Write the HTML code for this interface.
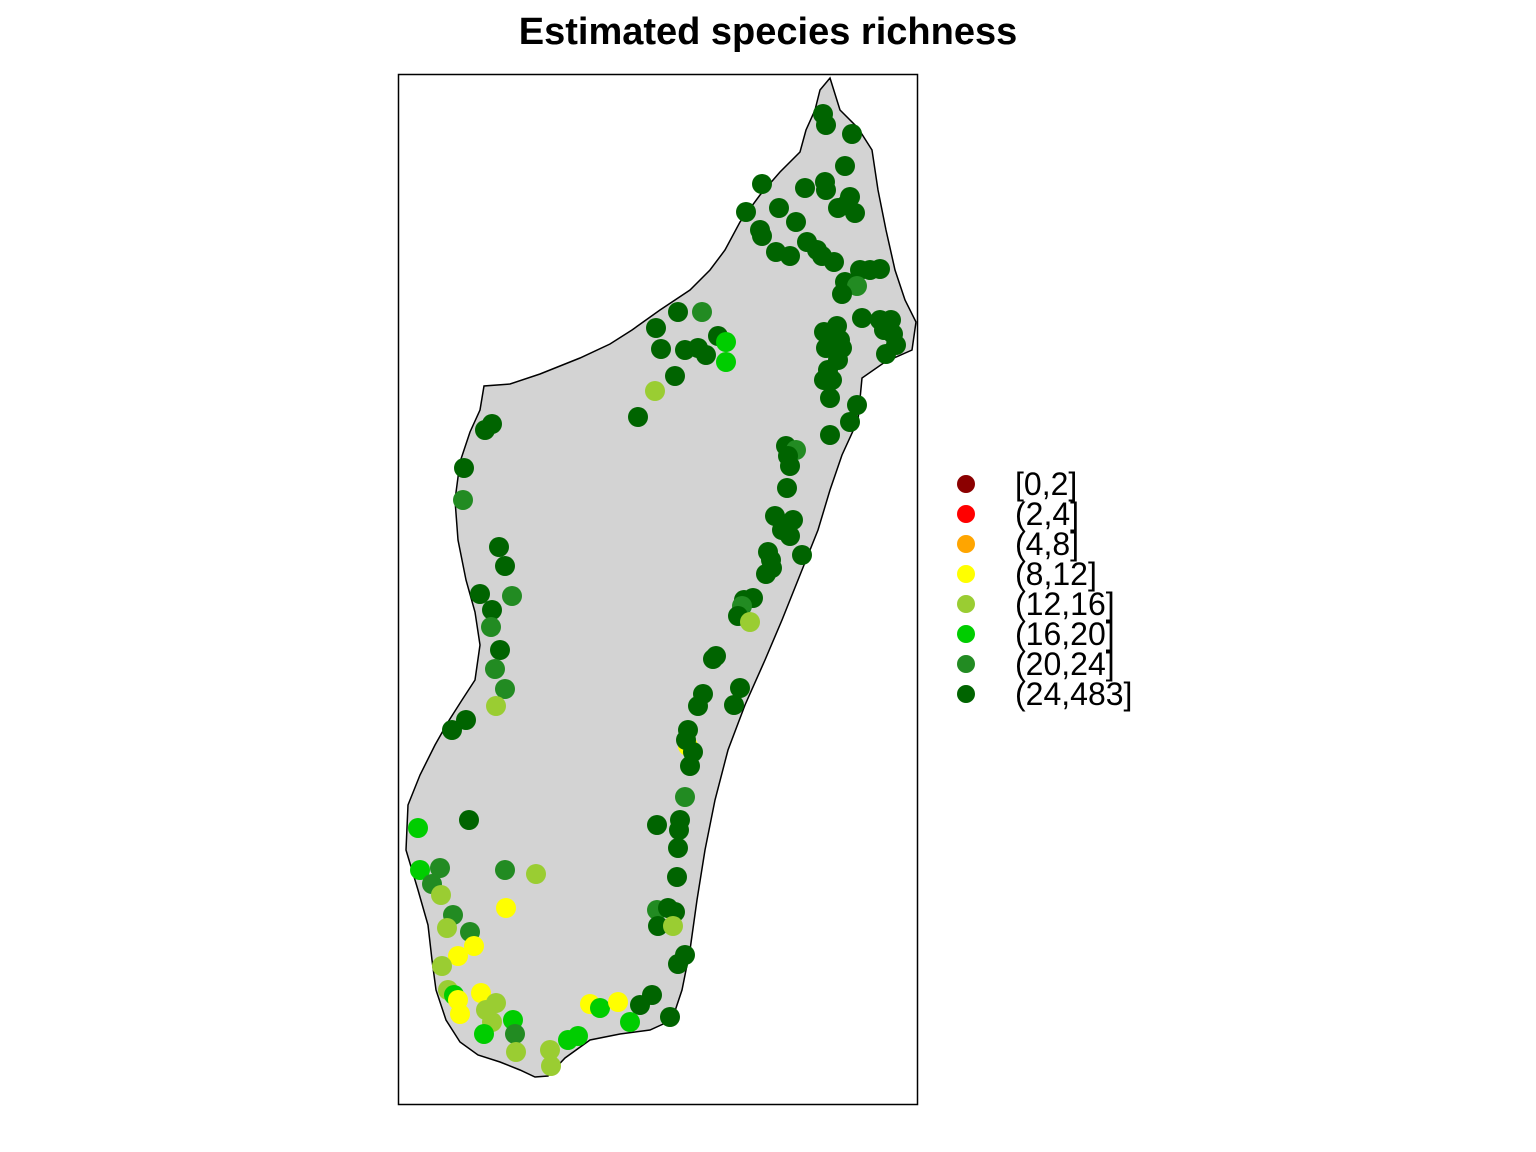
<!DOCTYPE html>
<html><head><meta charset="utf-8"><style>
body{margin:0;background:#fff;overflow:hidden;}
svg{display:block;font-family:"Liberation Sans",sans-serif;}
</style></head><body>
<svg id="chart" width="1536" height="1152">
<text x="768" y="44" text-anchor="middle" font-size="38" font-weight="bold">Estimated species richness</text>
<clipPath id="clip"><rect x="398" y="74" width="520" height="1030"/></clipPath>
<g id="land" clip-path="url(#clip)"></g>
<g id="pts"></g>
<rect x="398.5" y="74.5" width="519" height="1030" fill="none" stroke="#000" stroke-width="1.5"/>
<g id="legend"></g>
</svg>
<script>
const classLabels=["[0,2]","(2,4]","(4,8]","(8,12]","(12,16]","(16,20]","(20,24]","(24,483]"];
const classColors=["#8B0000","#FF0000","#FFA500","#FFFF00","#9ACD32","#00CD00","#228B22","#006400"];
// coastline in km easting/northing from map SW origin
const coastE=[432,442,460,474,480,488,497,507,518,514,487,464,460,444,432,420,402,384,367,347,330,317,307,299,292,284,274,252,222,192,167,150,137,122,102,80,62,48,38,34,30,20,8,10,22,37,50,64,77,82,77,68,60,57,62,72,82,86,112,142,182,212,234,262,292,312,327,342,362,382,402,408,417,422];
const coastN=[1026,994,976,954,914,874,834,804,782,754,742,726,684,649,614,574,529,484,444,399,354,304,254,204,154,114,84,74,70,64,46,28,27,34,42,49,62,84,114,144,179,214,254,299,329,359,382,404,424,459,492,524,564,604,642,672,694,718,720,730,746,760,774,794,814,834,854,882,909,932,952,974,994,1014];
const ptE=[425,428,454,447,364,407,427,428,452,440,448,457,348,381,398,362,364,409,419,424,378,392,436,462,472,482,447,459,444,464,482,493,486,495,426,439,442,428,444,498,488,440,430,426,434,432,459,452,432,
280,304,258,320,328,263,287,300,308,328,277,257,240,94,87,66,65,
388,398,390,392,389,377,395,384,392,404,370,373,368,374,346,355,344,340,352,315,318,342,305,300,336,290,290,288,295,292,287,282,281,259,280,279,259,270,277,260,275,287,280,254,242,272,
101,107,82,114,94,93,102,97,107,98,68,54,71,20,22,42,107,138,34,43,108,55,72,49,76,60,44,50,56,60,83,98,88,94,62,115,117,86,118,152,153,170,180,192,202,220,232];
const ptN=[990,979,970,938,920,916,922,914,907,896,899,891,892,896,882,874,868,862,854,848,852,848,842,834,834,835,822,818,810,786,784,784,774,770,772,778,764,756,756,759,750,744,734,724,724,706,699,682,669,
792,792,776,768,762,755,754,756,749,742,728,713,687,680,674,636,604,
658,654,648,638,616,588,584,574,568,549,552,544,530,536,504,506,498,488,482,445,448,416,410,398,399,374,358,364,352,338,307,284,274,279,256,227,194,196,192,178,178,149,140,109,99,87,
557,538,510,508,494,477,454,435,415,398,384,374,284,276,234,236,234,230,220,209,196,189,172,176,158,148,138,114,109,104,111,101,94,82,90,84,70,70,52,54,38,64,68,100,96,102,82];
const ptClass=[7,7,7,7,7,7,7,7,7,7,7,7,7,7,7,7,7,7,7,7,7,7,7,7,7,7,7,6,7,7,7,7,7,7,7,7,7,7,7,7,7,7,7,7,7,7,7,7,7,
7,6,7,7,5,7,7,7,7,5,7,4,7,7,7,7,6,
7,6,7,7,7,7,7,7,7,7,7,7,7,7,7,7,6,7,4,7,7,7,7,7,7,7,3,7,7,7,6,7,7,7,7,7,6,7,7,7,4,7,7,7,7,7,
7,7,7,6,7,6,7,6,6,4,7,7,7,5,5,6,6,4,6,4,3,6,6,4,3,3,4,4,5,3,3,4,4,4,3,5,6,5,4,4,4,5,5,3,5,3,5];
const X0=398, Y0=1104;
function sx(e){return X0+e;}
function sy(n){return Y0-n;}
const NS="http://www.w3.org/2000/svg";
const land=document.getElementById('land');
let d="";
for(let i=0;i<coastE.length;i++){d+=(i?"L":"M")+sx(coastE[i])+","+sy(coastN[i]);}
const poly=document.createElementNS(NS,'path');
poly.setAttribute('d',d+"Z");
poly.setAttribute('fill','#D3D3D3');poly.setAttribute('stroke','#000');poly.setAttribute('stroke-width','1.5');


land.appendChild(poly);
const pts=document.getElementById('pts');
for(let i=0;i<ptE.length;i++){
  const c=document.createElementNS(NS,'circle');
  c.setAttribute('cx',sx(ptE[i]));c.setAttribute('cy',sy(ptN[i]));c.setAttribute('r',10);
  c.setAttribute('fill',classColors[ptClass[i]]);
  
  
  pts.appendChild(c);
}
const lg=document.getElementById('legend');
for(let i=0;i<classLabels.length;i++){
  const g=document.createElementNS(NS,'g');
  
  
  const y=484+i*30;
  const c=document.createElementNS(NS,'circle');
  c.setAttribute('cx',966);c.setAttribute('cy',y);c.setAttribute('r',9);c.setAttribute('fill',classColors[i]);
  const t=document.createElementNS(NS,'text');
  t.setAttribute('x',1015);t.setAttribute('y',y+11);t.setAttribute('font-size','32');
  t.textContent=classLabels[i];
  g.appendChild(c);g.appendChild(t);lg.appendChild(g);
}
</script>
</body></html>
